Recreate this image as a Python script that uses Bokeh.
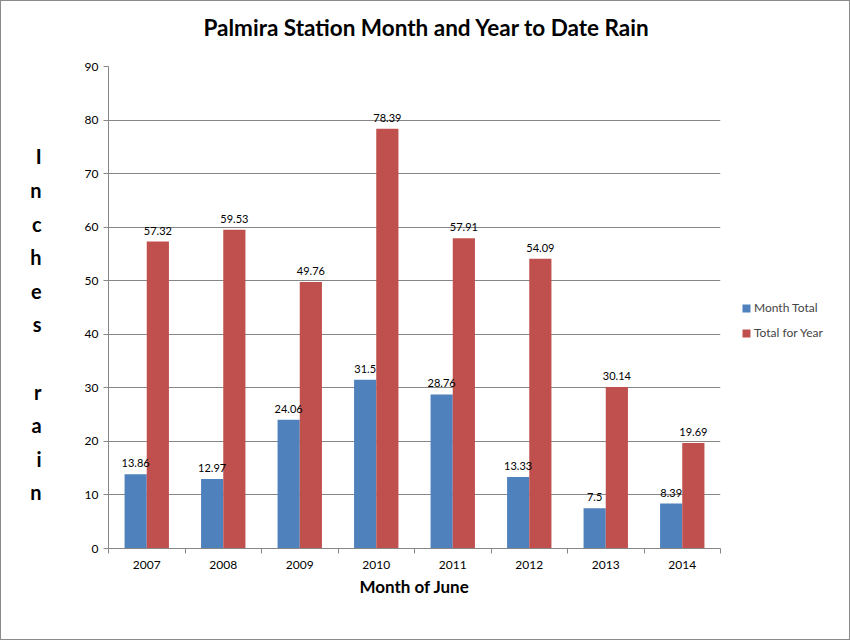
import numpy as np
from bokeh.plotting import figure
from bokeh.layouts import row
from bokeh.models import (FixedTicker, Legend, LegendItem, ColumnDataSource,
                          LabelSet, Range1d, Title)
from bokeh.core.properties import value
from bokeh.embed import file_html
from bokeh.resources import INLINE

years = ["2007", "2008", "2009", "2010", "2011", "2012", "2013", "2014"]
month_total = [13.86, 12.97, 24.06, 31.5, 28.76, 13.33, 7.5, 8.39]
year_total = [57.32, 59.53, 49.76, 78.39, 57.91, 54.09, 30.14, 19.69]
y_ticks = [0, 10, 20, 30, 40, 50, 60, 70, 80, 90]
series_names = ["Month Total", "Total for Year"]

BLUE = "#4F81BD"
RED = "#C0504D"
GRID = "#868686"
FONT = "Lato"

idx = np.arange(len(years))
centers = idx + 0.5
bw = 0.29

src = ColumnDataSource(dict(
    xb=centers - bw / 2, xr=centers + bw / 2,
    mt=month_total, yt=year_total,
    mt_lab=[str(v) for v in month_total],
    yt_lab=[str(v) for v in year_total],
))

p = figure(width=720, height=638, x_range=Range1d(0, len(years)),
           y_range=Range1d(y_ticks[0], y_ticks[-1]),
           output_backend="svg", toolbar_location=None,
           min_border_left=107, min_border_right=1,
           min_border_top=65, min_border_bottom=91)
p.outline_line_color = None

p.title.text = "Palmira Station Month and Year to Date Rain"
p.title.align = "left"
p.title.offset = 95
p.title.standoff = 4
p.title.text_font = FONT
p.title.text_font_size = "22.5px"
p.title.text_font_style = "bold"
p.title.text_color = "black"
# empty spacer between title and plot area
p.add_layout(Title(text=" ", text_font_size="20px", standoff=0), "above")

r1 = p.vbar(x="xb", top="mt", width=bw, source=src, fill_color=BLUE, line_color=None)
r2 = p.vbar(x="xr", top="yt", width=bw, source=src, fill_color=RED, line_color=None)

for col, xc, ycol in (("mt_lab", "xb", "mt"), ("yt_lab", "xr", "yt")):
    p.add_layout(LabelSet(x=xc, y=ycol, text=col, source=src, y_offset=7,
                          text_align="center", text_baseline="bottom",
                          text_font=value(FONT), text_font_size=value("11px"),
                          text_color="black"))

# axes
p.xgrid.visible = False
p.ygrid.grid_line_color = GRID
p.ygrid.ticker = FixedTicker(ticks=y_ticks)

p.yaxis.ticker = FixedTicker(ticks=y_ticks)
p.yaxis.axis_line_color = GRID
p.yaxis.major_tick_line_color = GRID
p.yaxis.major_tick_out = 5
p.yaxis.major_tick_in = 0
p.yaxis.minor_tick_line_color = None
p.yaxis.major_label_text_font = FONT
p.yaxis.major_label_text_font_size = "12px"
p.yaxis.major_label_text_color = "black"
p.yaxis.axis_label = " \n" + "\n".join(list("Inches")) + "\n \n" + "\n".join(list("rain"))
p.yaxis.axis_label_orientation = "horizontal"
p.yaxis.axis_label_text_font = FONT
p.yaxis.axis_label_text_font_size = "20px"
p.yaxis.axis_label_text_font_style = "bold"
p.yaxis.axis_label_text_line_height = 1.40
p.yaxis.axis_label_text_color = "black"
p.yaxis.axis_label_standoff = 40

p.xaxis.ticker = FixedTicker(ticks=list(centers), minor_ticks=list(range(len(years) + 1)))
p.xaxis.major_label_overrides = {float(c): y for c, y in zip(centers, years)}
p.xaxis.axis_line_color = GRID
p.xaxis.major_tick_line_color = None
p.xaxis.major_tick_out = 0
p.xaxis.major_tick_in = 0
p.xaxis.minor_tick_line_color = GRID
p.xaxis.minor_tick_out = 5
p.xaxis.minor_tick_in = 0
p.xaxis.major_label_standoff = 7
p.xaxis.major_label_text_font = FONT
p.xaxis.major_label_text_font_size = "12px"
p.xaxis.major_label_text_color = "black"
p.xaxis.axis_label = "Month of June"
p.xaxis.axis_label_text_font = FONT
p.xaxis.axis_label_text_font_size = "17px"
p.xaxis.axis_label_text_font_style = "bold"
p.xaxis.axis_label_text_color = "black"
p.xaxis.axis_label_standoff = 4

# legend panel (separate narrow figure on the right); its renderers are hidden
pl = figure(width=128, height=638, x_range=Range1d(0, 1), y_range=Range1d(0, 1),
            x_axis_type=None, y_axis_type=None, output_backend="svg",
            toolbar_location=None, min_border=0)
pl.grid.visible = False
pl.outline_line_color = None
lr1 = pl.vbar(x="xb", top="mt", width=bw, source=src, fill_color=BLUE, line_color=None)
lr2 = pl.vbar(x="xr", top="yt", width=bw, source=src, fill_color=RED, line_color=None)
lr1.visible = False
lr2.visible = False
legend = Legend(items=[LegendItem(label=series_names[0], renderers=[lr1]),
                       LegendItem(label=series_names[1], renderers=[lr2])],
                location=(20, 208), border_line_color=None, background_fill_alpha=0,
                glyph_width=10, glyph_height=10, label_height=15, spacing=10,
                label_text_font=FONT, label_text_font_size="12px",
                label_standoff=3, margin=0, padding=10)
pl.add_layout(legend)

layout = row(p, pl, styles={"border": "1px solid #8a8a8a"})

open("out.html", "w").write(file_html(layout, INLINE))
